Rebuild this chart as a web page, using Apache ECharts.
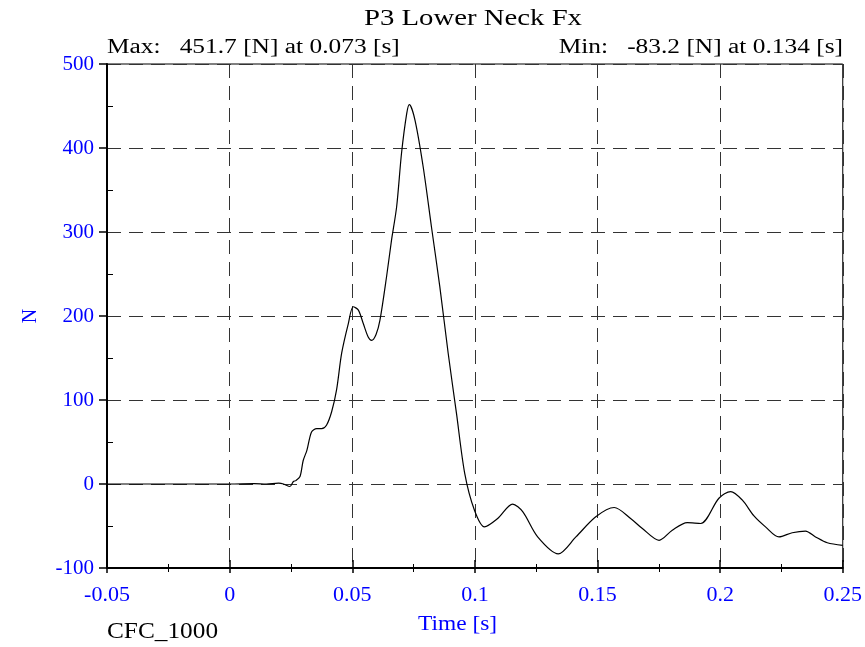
<!DOCTYPE html>
<html>
<head>
<meta charset="utf-8">
<script src="https://cdn.jsdelivr.net/npm/echarts@6/dist/echarts.min.js"></script>
<style>
  html, body { margin: 0; padding: 0; background: #fff; }
  #chart { width: 865px; height: 647px; }
</style>
</head>
<body>
<div id="chart"></div>
<script>
// time [s] and force [N]
const time = [
  -0.05, -0.03, -0.01, 0.0, 0.01, 0.015, 0.02, 0.022, 0.0246, 0.026,
  0.027, 0.0287, 0.030, 0.0315, 0.0334, 0.0355, 0.0375, 0.0395, 0.0416, 0.0436,
  0.0457, 0.0484, 0.0504, 0.0525, 0.0545, 0.0565, 0.0579, 0.0597, 0.0613, 0.064,
  0.066, 0.0681, 0.0701, 0.0722, 0.0733, 0.0756, 0.0789, 0.0823, 0.0857, 0.0891,
  0.0925, 0.0959, 0.0998, 0.1039, 0.1093, 0.1154, 0.1195, 0.1256, 0.134, 0.1412,
  0.1493, 0.1568, 0.1635, 0.1683, 0.1751, 0.1805, 0.1866, 0.1921, 0.1995, 0.2043,
  0.209, 0.2138, 0.2185, 0.224, 0.2294, 0.2348, 0.2389, 0.2437, 0.25
];
const force = [
  0, 0, 0, 0, 0.5, 0, 1, 0, -3, 3,
  4, 9, 28, 40, 62, 66, 66, 70, 86, 112,
  156, 191, 211, 207, 191, 175, 171, 178, 195, 247,
  290, 330, 394, 441, 451.7, 433, 378, 306, 235, 156,
  84, 12, -31, -51, -41, -24, -33, -63, -83.2, -63,
  -39, -28, -41, -53, -67, -55, -46, -47, -17, -9,
  -19, -38, -51, -63, -58, -56, -63, -70, -73
];
const chartTitle = 'P3 Lower Neck Fx';
const maxText = 'Max:   451.7 [N] at 0.073 [s]';
const minText = 'Min:   -83.2 [N] at 0.134 [s]';
const xName = 'Time [s]';
const yName = 'N';
const filterText = 'CFC_1000';

const serif = 'Liberation Serif, Times New Roman, serif';
const chart = echarts.init(document.getElementById('chart'));

const points = time.map((t, i) => [t, force[i]]);

const dashed = { show: true, lineStyle: { color: '#333', type: [14, 8], width: 1 } };
const xRange = { type: 'value', min: -0.05, max: 0.25, interval: 0.05 };
const yRange = { type: 'value', min: -100, max: 500, interval: 100 };

// the original text is drawn a bit wider than Times, so stretch it
function label(text, x, y, size, color, align, sx) {
  return {
    type: 'text', x: x, y: y, scaleX: sx,
    style: {
      text: text, font: size + 'px ' + serif, fill: color,
      align: align, verticalAlign: 'middle'
    }
  };
}

// extra copies of the axes that only draw the ticks inside the plot
function innerTicks(range, position, len, minorLen) {
  return Object.assign({}, range, {
    position: position,
    axisLine: { show: false, onZero: false },
    axisLabel: { show: false },
    splitLine: { show: false },
    axisTick: { show: len > 0, inside: true, length: len, lineStyle: { color: '#000', width: 1.5 } },
    minorTick: { show: true, splitNumber: 2, length: minorLen, lineStyle: { color: '#000' } }
  });
}

const option = {
  animation: false,
  grid: {
    left: 107, right: 22, top: 64, bottom: 79,
    show: true, borderColor: '#000', borderWidth: 1
  },
  xAxis: [
    Object.assign({}, xRange, {
      position: 'bottom',
      axisLine: { onZero: false, lineStyle: { color: '#000', width: 2 } },
      axisTick: { show: true, length: 5, lineStyle: { color: '#000', width: 1.5 } },
      minorTick: { show: true, splitNumber: 2, length: 4, lineStyle: { color: '#000' } },
      axisLabel: {
        color: '#0000ff', fontFamily: serif, fontSize: 22, margin: 16,
        formatter: v => String(Math.round(v * 1000) / 1000)
      },
      splitLine: dashed
    }),
    innerTicks(xRange, 'bottom', 8, 4)
  ],
  yAxis: [
    Object.assign({}, yRange, {
      position: 'left',
      name: yName,
      nameLocation: 'middle',
      nameGap: 66,
      nameTextStyle: { color: '#0000ff', fontFamily: serif, fontSize: 20 },
      axisLine: { onZero: false, lineStyle: { color: '#000', width: 2 } },
      axisTick: { show: true, length: 8, lineStyle: { color: '#000', width: 1.5 } },
      minorTick: { show: false },
      axisLabel: { color: '#0000ff', fontFamily: serif, fontSize: 21, margin: 13 },
      splitLine: dashed
    }),
    innerTicks(yRange, 'left', 0, 6)
  ],
  graphic: [
    label(chartTitle, 473, 19, 23, '#000', 'center', 1.25),
    label(maxText, 107, 48, 20, '#000', 'left', 1.27),
    label(minText, 843, 48, 20, '#000', 'right', 1.27),
    label(xName, 418, 625, 20, '#0000ff', 'left', 1.17),
    label(filterText, 107, 632, 23, '#000', 'left', 1.1)
  ],
  series: [
    {
      type: 'line',
      data: points,
      showSymbol: false,
      smooth: 0.3,
      lineStyle: { color: '#000', width: 1.2 }
    }
  ]
};

chart.setOption(option);
</script>
</body>
</html>
